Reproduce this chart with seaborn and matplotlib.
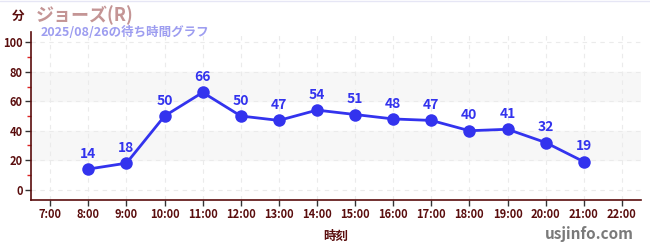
import matplotlib
matplotlib.use("Agg")
import matplotlib.pyplot as plt
import seaborn as sns
import pandas as pd
from matplotlib.ticker import MultipleLocator

hours = [8, 9, 10, 11, 12, 13, 14, 15, 16, 17, 18, 19, 20, 21]
waits = [14, 18, 50, 66, 50, 47, 54, 51, 48, 47, 40, 41, 32, 19]
tick_hours = list(range(7, 23))
tick_labels = [f"{h}:00" for h in tick_hours]
title = "ジョーズ(R)"
subtitle = "2025/08/26の待ち時間グラフ"

sns.set_theme(style="white")
plt.rcParams['font.family'] = ['Noto Sans CJK JP', 'DejaVu Sans']

df = pd.DataFrame({"hour": hours, "wait": waits})

fig = plt.figure(figsize=(6.5, 2.5), dpi=100)
ax = fig.add_axes([0.048, 0.2, 0.938, 0.672])

dark = "#5a0d0d"
blue = "#3333ee"

for lo, hi in [(20, 40), (60, 80)]:
    ax.axhspan(lo, hi, color="#f7f7f7", zorder=0)

sns.lineplot(data=df, x="hour", y="wait", ax=ax, color=blue, linewidth=2,
             marker="o", markersize=9, markeredgewidth=0, zorder=3)
for h, w in zip(hours, waits):
    ax.annotate(str(w), (h, w), xytext=(0, 6), textcoords="offset points",
                ha="center", va="bottom", color=blue, fontsize=10,
                fontweight="bold")

ax.set_xlim(6.5, 22.5)
ax.set_ylim(-7, 107)
ax.set_xticks(tick_hours)
ax.set_xticklabels(tick_labels)
ax.set_yticks([0, 20, 40, 60, 80, 100])
ax.yaxis.set_minor_locator(MultipleLocator(10))
ax.grid(True, which="major", color="#ebebeb", linestyle=(0, (4, 4)), linewidth=0.8)
ax.tick_params(axis="both", which="major", direction="out", length=4, width=1,
               color="#333333", labelsize=8, labelcolor=dark, pad=2, left=True, bottom=True)
ax.tick_params(axis="y", which="minor", direction="out", length=3, width=1,
               color="#dd2222", left=True)
for lbl in ax.get_xticklabels() + ax.get_yticklabels():
    lbl.set_fontweight("bold")
for s in ["top", "right"]:
    ax.spines[s].set_visible(False)
for s in ["left", "bottom"]:
    ax.spines[s].set_color(dark)
    ax.spines[s].set_linewidth(1.2)
ax.set_xlabel("時刻", color=dark, fontsize=9, fontweight="bold", labelpad=6)
ax.set_ylabel("")

fig.text(0.018, 0.935, "分", color=dark, fontsize=9, fontweight="bold", va="center")
fig.text(0.055, 0.94, title, color="#c49595", fontsize=13, fontweight="bold", va="center")
fig.text(0.062, 0.87, subtitle, color="#9d9df0", fontsize=9, fontweight="bold", va="center")
fig.text(0.975, 0.065, "usjinfo.com", color="#7a7a7a", fontsize=11, fontweight="bold",
         ha="right", va="center")
fig.add_artist(plt.Line2D([0, 1], [0.998, 0.998], color="#e6e6f5", linewidth=1))

fig.savefig("out.png", dpi=100)
